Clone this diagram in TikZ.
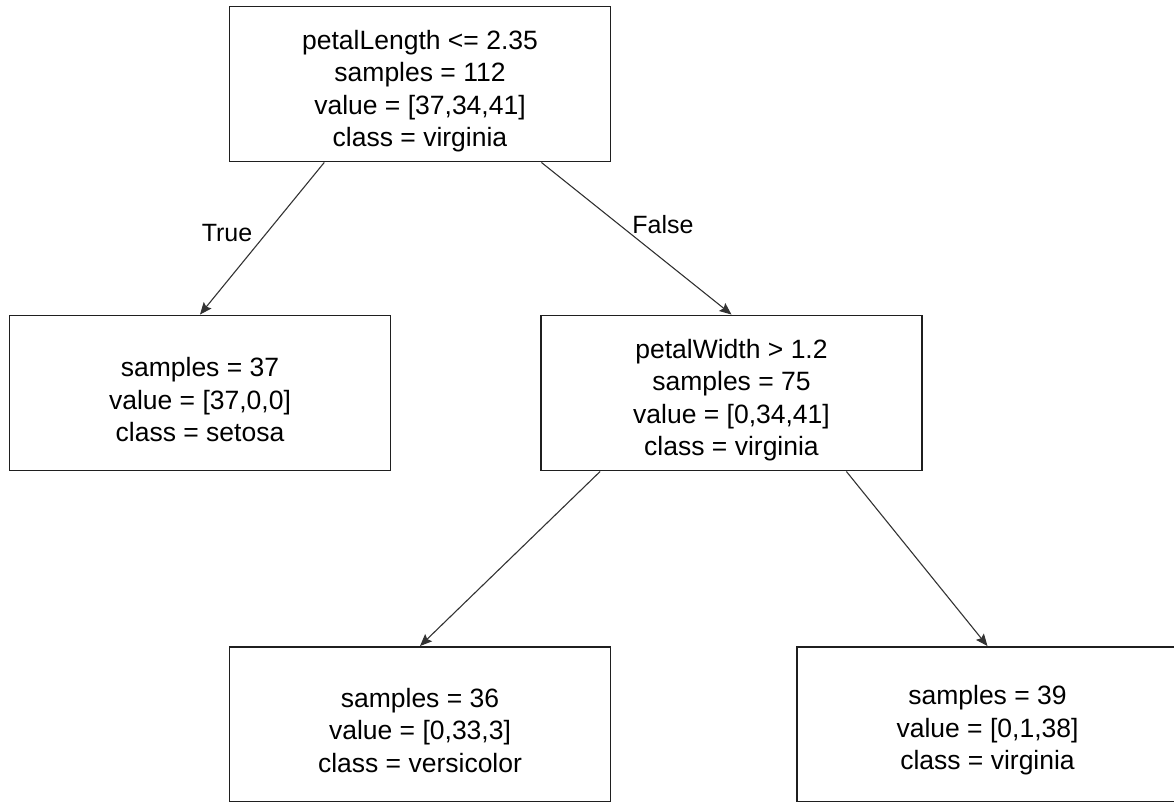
\documentclass[tikz,border=0pt]{standalone}
\usepackage{fontspec}
\setmainfont{Liberation Sans}
\usetikzlibrary{arrows.meta,calc}
\begin{document}
\begin{tikzpicture}[x=1pt,y=-1pt,
  treenode/.style={draw=black!88, line width=1.9pt, minimum width=381pt,
    minimum height=155pt, inner sep=0pt},
  treetext/.style={align=center, inner sep=0pt,
    font=\fontsize{26.5}{32.5}\selectfont},
  branch/.style={draw=black!80, line width=1.1pt,
    -{Stealth[length=12pt,width=10pt,inset=2pt]}},
  edgelabel/.style={font=\fontsize{25}{30}\selectfont}]
\useasboundingbox (0,0) rectangle (1174,802);
\clip (0,0) rectangle (1174,802);

% decision tree boxes
\node[treenode] (root)   at (420,84)      {};
\node[treenode] (setosa) at (200,393)     {};
\node[treenode] (split)  at (731.5,393)   {};
\node[treenode] (versi)  at (420,724.5)   {};
\node[treenode] (virg)   at (987.5,724.5) {};

% box contents, set slightly below the box centre
\node[treetext] (roottext) at ($(root.center)+(0,7)$)
  {petalLength <= 2.35\\samples = 112\\value = [37,34,41]\\class = virginia};
\node[treetext] (setosatext) at ($(setosa.center)+(0,7)$)
  {samples = 37\\value = [37,0,0]\\class = setosa};
\node[treetext] (splittext) at ($(split.center)+(0,7)$)
  {petalWidth > 1.2\\samples = 75\\value = [0,34,41]\\class = virginia};
\node[treetext] (versitext) at ($(versi.center)+(0,6)$)
  {samples = 36\\value = [0,33,3]\\class = versicolor};
\node[treetext] (virgtext) at ($(virg.center)+(0,6)$)
  {samples = 39\\value = [0,1,38]\\class = virginia};

% branches
\draw[branch] ($(root.south west)!0.25!(root.south east)$) -- (setosa.north);
\draw[branch] ($(root.south west)!0.817!(root.south east)$) -- (split.north);
\draw[branch] ($(split.south west)!0.157!(split.south east)$) -- (versi.north);
\draw[branch] ($(split.south west)!0.80!(split.south east)$) -- (virg.north);

% branch labels
\node[edgelabel] (truelbl) at (227,233) {True};
\node[edgelabel] (falselbl) at (663,225) {False};
\end{tikzpicture}
\end{document}
